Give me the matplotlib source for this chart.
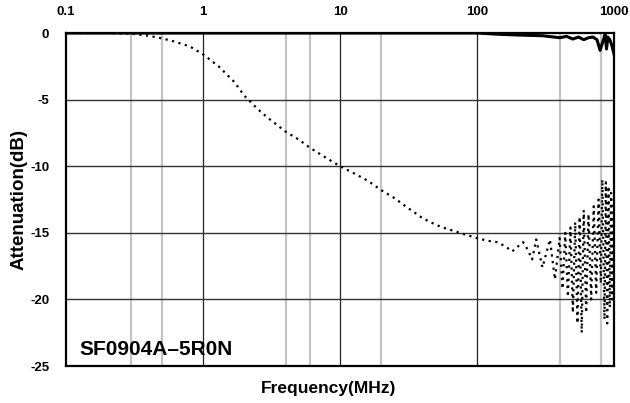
import matplotlib.pyplot as plt
import numpy as np

plt.rcParams['font.family'] = ['Liberation Sans', 'DejaVu Sans']

# attenuation curve (dotted)
freq_att = [0.1, 0.2, 0.3, 0.4, 0.5, 0.6, 0.8, 1.0, 1.3, 1.7, 2.0, 2.5, 3.0, 4.0,
            5.0, 6.0, 8.0, 10, 13, 16, 20, 25, 30, 40, 50, 60, 70, 80, 100, 120,
            140, 160, 180, 200, 217, 235, 252, 270, 300, 340, 370, 400, 420, 440, 460, 480,
            500, 520, 540, 560, 580, 600, 625, 650, 680, 710, 740, 770, 800, 820,
            850, 870, 890, 910, 930, 950, 970, 990]
att = [0, 0, -0.05, -0.2, -0.4, -0.6, -1.0, -1.6, -2.5, -3.7, -4.7, -5.7, -6.4, -7.4,
       -8.0, -8.6, -9.4, -10.0, -10.6, -11.1, -11.8, -12.4, -13.0, -13.9, -14.4, -14.7, -14.9, -15.1, -15.4, -15.6,
       -15.7, -16.0, -16.4, -16.0, -15.7, -16.3, -17.0, -15.5, -17.6, -15.5, -18.5, -15.4, -19.2, -15.0, -19.8, -14.6,
       -21.0, -14.2, -21.8, -13.8, -22.5, -13.3, -21.0, -13.6, -20.0, -13.0, -19.5, -12.5, -18.8, -11.0,
       -21.5, -11.2, -21.8, -11.5, -20.6, -12.0, -20.0, -12.5]

# insertion curve (solid) near 0 dB
freq_ins = [0.1, 1, 10, 100, 150, 200, 300, 400, 450, 500, 550, 600, 650, 700, 750,
            790, 830, 860, 880, 900, 930, 960, 1000]
ins = [0, 0, 0, 0, -0.1, -0.15, -0.2, -0.35, -0.25, -0.45, -0.3, -0.5, -0.35, -0.3, -0.5,
       -1.3, -0.6, -0.1, -1.2, -0.3, -0.5, -0.9, -1.6]

yticks = [0, -5, -10, -15, -20, -25]
xticks = [0.1, 1, 10, 100, 1000]
xtick_labels = ['0.1', '1', '10', '100', '1000']
light_lines = [0.3, 0.5, 4, 6, 20, 400, 800]

fig = plt.figure(figsize=(6.3, 4.03), dpi=100)
ax = fig.add_axes([0.1048, 0.0918, 0.87, 0.8262])

for f in light_lines:
    ax.axvline(f, color='#c4c4c4', lw=1.6, zorder=1)
for f in xticks[1:-1]:
    ax.axvline(f, color='#222222', lw=0.9, zorder=2)
for v in yticks[1:-1]:
    ax.axhline(v, color='#333333', lw=1.0, zorder=2)

ax.plot(freq_ins, ins, color='black', lw=2.2, zorder=4)
ax.plot(freq_att, att, color='black', lw=1.6, ls=(0, (1, 2)), zorder=4)

ax.set_xscale('log')
ax.set_xlim(0.1, 1000)
ax.set_ylim(-25, 0)
ax.xaxis.tick_top()
ax.set_xticks(xticks)
ax.set_xticklabels(xtick_labels)
ax.xaxis.set_minor_locator(plt.NullLocator())
ax.set_yticks(yticks)
ax.set_yticklabels(['0', '-5', '-10', '-15', '-20', '-25'])
ax.tick_params(length=0, labelsize=9.5)
ax.tick_params(axis='x', pad=11)
ax.tick_params(axis='y', pad=12)
for lbl in ax.get_xticklabels() + ax.get_yticklabels():
    lbl.set_fontweight('bold')

for s in ax.spines.values():
    s.set_linewidth(1.6)
    s.set_color('black')

ax.set_ylabel('Attenuation(dB)', fontsize=13.5, fontweight='bold', labelpad=2)
fig.text(0.522, 0.037, 'Frequency(MHz)', ha='center', va='center', fontsize=12.5,
         fontweight='bold')
ax.text(0.025, 0.022, 'SF0904A\u20135R0N', transform=ax.transAxes, fontsize=15,
        fontweight='bold', ha='left', va='bottom', zorder=5)

fig.savefig('out.png', dpi=100)
